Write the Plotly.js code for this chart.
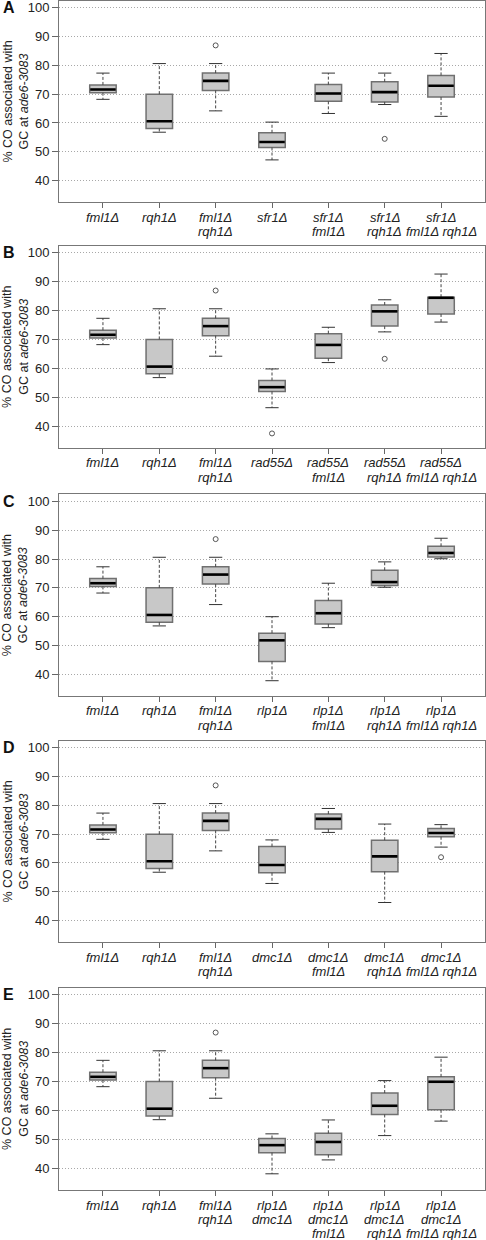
<!DOCTYPE html>
<html><head><meta charset="utf-8">
<script src="https://cdn.plot.ly/plotly-3.0.1.min.js"></script>
<style>html,body{margin:0;padding:0;background:#fff}</style>
</head><body><div id="chart" style="width:486px;height:1240px"></div>
<script>
// ---- Data ----
const commonLabels = ['fml1Δ', 'rqh1Δ', 'fml1Δ<br>rqh1Δ'];
const commonLo  = [68.2, 56.8, 64.2];
const commonQ1  = [70.5, 58.1, 71.3];
const commonMed = [71.6, 60.6, 74.6];
const commonQ3  = [73.2, 70.0, 77.3];
const commonHi  = [77.3, 80.6, 80.6];
const commonOutX = [3];
const commonOutY = [86.9];

const A_labels = ['sfr1Δ', 'sfr1Δ<br>fml1Δ', 'sfr1Δ<br>rqh1Δ', 'sfr1Δ<br>fml1Δ rqh1Δ'];
const A_lo  = [47.2, 63.3, 66.4, 62.3];
const A_q1  = [51.5, 67.5, 67.3, 69.0];
const A_med = [53.4, 70.2, 70.7, 72.9];
const A_q3  = [56.6, 73.3, 74.3, 76.5];
const A_hi  = [60.3, 77.3, 77.3, 84.1];
const A_outX = [6];
const A_outY = [54.5];

const B_labels = ['rad55Δ', 'rad55Δ<br>fml1Δ', 'rad55Δ<br>rqh1Δ', 'rad55Δ<br>fml1Δ rqh1Δ'];
const B_lo  = [46.4, 62.0, 72.6, 76.0];
const B_q1  = [52.0, 63.5, 74.6, 78.8];
const B_med = [53.5, 68.1, 79.7, 84.4];
const B_q3  = [55.8, 72.0, 81.9, 84.6];
const B_hi  = [59.8, 74.2, 83.7, 92.6];
const B_outX = [4, 6];
const B_outY = [37.5, 63.3];

const C_labels = ['rlp1Δ', 'rlp1Δ<br>fml1Δ', 'rlp1Δ<br>rqh1Δ', 'rlp1Δ<br>fml1Δ rqh1Δ'];
const C_lo  = [37.8, 56.2, 70.2, 80.1];
const C_q1  = [44.5, 57.5, 70.8, 80.7];
const C_med = [51.8, 61.2, 72.0, 82.1];
const C_q3  = [54.3, 65.6, 76.1, 84.4];
const C_hi  = [60.0, 71.6, 79.0, 87.2];
const C_outX = [];
const C_outY = [];

const D_labels = ['dmc1Δ', 'dmc1Δ<br>fml1Δ', 'dmc1Δ<br>rqh1Δ', 'dmc1Δ<br>fml1Δ rqh1Δ'];
const D_lo  = [52.9, 70.6, 46.3, 65.5];
const D_q1  = [56.6, 71.8, 57.0, 69.1];
const D_med = [59.3, 75.3, 62.3, 70.4];
const D_q3  = [65.7, 77.0, 67.9, 72.0];
const D_hi  = [68.0, 78.9, 73.5, 73.3];
const D_outX = [7];
const D_outY = [62.0];

const E_labels = ['rlp1Δ<br>dmc1Δ', 'rlp1Δ<br>dmc1Δ<br>fml1Δ', 'rlp1Δ<br>dmc1Δ<br>rqh1Δ', 'rlp1Δ<br>dmc1Δ<br>fml1Δ rqh1Δ'];
const E_lo  = [38.1, 42.9, 51.3, 56.3];
const E_q1  = [45.4, 44.7, 58.6, 60.2];
const E_med = [48.0, 49.1, 61.6, 69.9];
const E_q3  = [50.3, 52.1, 66.0, 71.6];
const E_hi  = [51.9, 56.7, 70.3, 78.4];
const E_outX = [];
const E_outY = [];

const panelLetters = ['A', 'B', 'C', 'D', 'E'];
const yTicks = [40, 50, 60, 70, 80, 90, 100];

// ---- Build ----
const panels = [
  {labels: A_labels, lo: A_lo, q1: A_q1, med: A_med, q3: A_q3, hi: A_hi, ox: A_outX, oy: A_outY, dom: [0.83685, 0.99944]},
  {labels: B_labels, lo: B_lo, q1: B_q1, med: B_med, q3: B_q3, hi: B_hi, ox: B_outX, oy: B_outY, dom: [0.63879, 0.80185]},
  {labels: C_labels, lo: C_lo, q1: C_q1, med: C_med, q3: C_q3, hi: C_hi, ox: C_outX, oy: C_outY, dom: [0.43871, 0.60129]},
  {labels: D_labels, lo: D_lo, q1: D_q1, med: D_med, q3: D_q3, hi: D_hi, ox: D_outX, oy: D_outY, dom: [0.24008, 0.40266]},
  {labels: E_labels, lo: E_lo, q1: E_q1, med: E_med, q3: E_q3, hi: E_hi, ox: E_outX, oy: E_outY, dom: [0.04032, 0.20347]}
];

const FONT = '"Liberation Sans", Arial, sans-serif';
const BOXW = 0.47;
const LABEL_FIRST = 15, LABEL_STEP = 14.3;
const traces = [];
const layout = {
  width: 486, height: 1240,
  margin: {l: 59, r: 1, t: 0, b: 0},
  paper_bgcolor: '#fff', plot_bgcolor: '#fff',
  showlegend: false,
  font: {family: FONT, size: 12, color: '#222'},
  annotations: []
};

panels.forEach((p, k) => {
  const sfx = k === 0 ? '' : String(k + 1);
  const xa = 'x' + sfx, ya = 'y' + sfx;
  const labels = commonLabels.concat(p.labels);
  const lo = commonLo.concat(p.lo), q1 = commonQ1.concat(p.q1), med = commonMed.concat(p.med);
  const q3 = commonQ3.concat(p.q3), hi = commonHi.concat(p.hi);
  const ox = commonOutX.concat(p.ox), oy = commonOutY.concat(p.oy);
  const pos = labels.map((_, i) => i + 1);

  const wx = [], wy = [], cx = [], cy = [], mx = [], my = [];
  pos.forEach((x, i) => {
    wx.push(x, x, null, x, x, null); wy.push(q3[i], hi[i], null, q1[i], lo[i], null);
    cx.push(x - BOXW / 4, x + BOXW / 4, null, x - BOXW / 4, x + BOXW / 4, null);
    cy.push(hi[i], hi[i], null, lo[i], lo[i], null);
    mx.push(x - BOXW / 2 + 0.01, x + BOXW / 2 - 0.01, null); my.push(med[i], med[i], null);
  });
  traces.push({type: 'scatter', mode: 'lines', x: wx, y: wy, xaxis: xa, yaxis: ya,
    line: {color: '#444', width: 1, dash: '3px,2px'}, hoverinfo: 'skip'});
  traces.push({type: 'scatter', mode: 'lines', x: cx, y: cy, xaxis: xa, yaxis: ya,
    line: {color: '#333', width: 1}, hoverinfo: 'skip'});
  traces.push({type: 'box', x: pos, q1: q1, median: med, q3: q3, lowerfence: q1, upperfence: q3,
    width: BOXW, boxpoints: false, xaxis: xa, yaxis: ya,
    fillcolor: '#c8c8c8', line: {color: '#707070', width: 1.5}});
  traces.push({type: 'scatter', mode: 'lines', x: mx, y: my, xaxis: xa, yaxis: ya,
    line: {color: '#000', width: 2.6}, hoverinfo: 'skip'});
  if (ox.length) traces.push({type: 'scatter', mode: 'markers', x: ox, y: oy, xaxis: xa, yaxis: ya,
    marker: {symbol: 'circle-open', size: 5, color: '#555', line: {width: 1}}});

  layout['xaxis' + sfx] = {
    anchor: ya, domain: [0, 1], range: [0.22, 7.78],
    tickmode: 'array', tickvals: pos, showticklabels: false,
    ticks: 'outside', ticklen: 5, tickcolor: '#666', showgrid: false, zeroline: false,
    showline: true, mirror: true, linecolor: '#777', linewidth: 1, fixedrange: true
  };
  layout['yaxis' + sfx] = {
    anchor: xa, domain: p.dom, range: [32.5, 102.4],
    tickmode: 'array', tickvals: yTicks, ticktext: yTicks.map(String),
    ticks: 'outside', ticklen: 6, tickcolor: '#666',
    showgrid: true, gridcolor: '#a8a8a8', griddash: '1px,2px', gridwidth: 1, zeroline: false,
    showline: true, mirror: true, linecolor: '#777', linewidth: 1,
    tickfont: {family: FONT, size: 13, color: '#222'}, fixedrange: true
  };
  // category labels, one annotation per text line for tight line spacing
  labels.forEach((lab, i) => {
    lab.split('<br>').forEach((line, j) => {
      layout.annotations.push({
        xref: xa, yref: ya + ' domain', x: pos[i], y: 0, xanchor: 'center', yanchor: 'middle',
        yshift: -(LABEL_FIRST + LABEL_STEP * j), showarrow: false, text: '<i>' + line + '</i>',
        font: {family: FONT, size: 13, color: '#222'}
      });
    });
  });
  layout.annotations.push({
    xref: 'paper', yref: ya + ' domain', x: -0.103, y: 0.5, xanchor: 'center', yanchor: 'middle',
    textangle: -90, showarrow: false, text: '% CO associated with<br>GC at <i>ade6-3083</i>',
    font: {family: FONT, size: 12.5, color: '#222'}
  });
  layout.annotations.push({
    xref: 'paper', yref: ya, x: -0.136, y: 100, xanchor: 'left', yanchor: 'middle',
    showarrow: false, text: '<b>' + panelLetters[k] + '</b>',
    font: {family: FONT, size: 16, color: '#111'}
  });
});

Plotly.newPlot('chart', traces, layout, {displayModeBar: false, staticPlot: true});
</script></body></html>
